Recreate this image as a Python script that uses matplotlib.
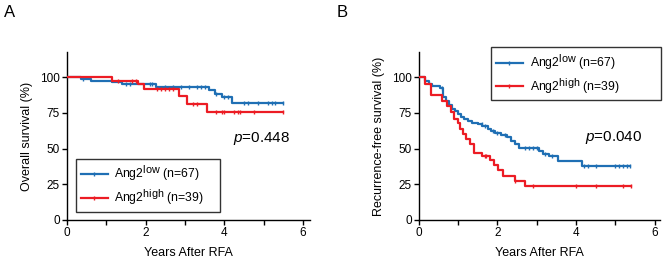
import numpy as np
import matplotlib
matplotlib.use("Agg")
import matplotlib.pyplot as plt
import matplotlib._mathtext as mt
from matplotlib.lines import Line2D

plt.rcParams['font.family'] = ['Liberation Sans', 'DejaVu Sans']
plt.rcParams['mathtext.fontset'] = 'custom'
plt.rcParams['mathtext.rm'] = 'Liberation Sans'
plt.rcParams['mathtext.it'] = 'Liberation Sans:italic'
# superscripts in the legend are nearly full size
mt.SHRINK_FACTOR = 0.88

#-------------------------------------------------------------
# data (step points + censor times)
#-------------------------------------------------------------
# panel A : overall survival
a_low_t = [0, 0.35, 0.6, 1.15, 1.4, 2.25, 3.6, 3.75, 3.95, 4.2, 5.5]
a_low_s = [100, 98.5, 97, 96.3, 95.2, 93, 91, 88, 86, 82, 82]
a_low_cens = [0.4, 1.5, 1.6, 2.1, 2.15, 2.5, 2.7, 2.9, 3.1, 3.3, 3.4, 3.5,
              3.8, 4.0, 4.1, 4.5, 4.6, 4.85, 5.1, 5.2, 5.3, 5.5]
a_high_t = [0, 1.15, 1.8, 1.95, 2.85, 3.05, 3.55, 5.5]
a_high_s = [100, 97.4, 95, 91.5, 87, 81.5, 75.5, 75.5]
a_high_cens = [1.3, 1.65, 1.75, 2.3, 2.4, 2.5, 2.6, 2.7, 3.2, 3.3, 3.8, 3.95,
               4.0, 4.25, 4.35, 4.4, 4.75, 5.5]

# panel B : recurrence-free survival
b_low_t = [0, 0.15, 0.25, 0.35, 0.55, 0.62, 0.7, 0.78, 0.85, 0.92, 1.0, 1.08,
           1.15, 1.25, 1.35, 1.5, 1.62, 1.75, 1.85, 1.95, 2.1, 2.25, 2.35,
           2.45, 2.55, 3.05, 3.15, 3.3, 3.55, 4.15, 5.38]
b_low_s = [100, 97, 95.5, 94, 92.5, 86, 83, 80.5, 78, 76, 74, 72, 70.5, 69,
           68, 67, 65.5, 64, 62.5, 61, 59.5, 58, 55.5, 53.5, 50.5, 48.5, 46.5,
           44.5, 41.5, 38, 38]
b_low_cens = [0.58, 1.6, 1.68, 1.9, 2.0, 2.2, 2.7, 2.8, 2.9, 3.0, 3.2, 3.4,
              4.2, 4.3, 4.5, 5.0, 5.1, 5.2, 5.3, 5.38]
b_high_t = [0, 0.15, 0.3, 0.6, 0.72, 0.82, 0.9, 1.0, 1.05, 1.12, 1.2, 1.3,
            1.4, 1.6, 1.82, 1.92, 2.02, 2.15, 2.45, 2.7, 5.4]
b_high_s = [100, 95, 87.5, 83.5, 79.5, 75.5, 71, 68, 64, 60, 56.5, 53, 47, 45,
            42, 38.5, 35, 31, 27.5, 24, 24]
b_high_cens = [1.68, 1.72, 2.45, 2.9, 4.0, 4.5, 5.2, 5.4]

blue = "#1f6fb4"
red = "#ec1c24"

def surv_at(t, s, x):
    idx = np.searchsorted(t, x, side="right") - 1
    return np.array(s)[idx]

def km(ax, t, s, cens, color):
    ax.step(t, s, where="post", color=color, lw=1.6, zorder=3)
    ax.plot(cens, surv_at(t, s, cens), ls="none", marker="|",
            color=color, ms=3, mew=1.0, zorder=3)

def style(ax, xmax):
    ax.set_xlim(0, xmax)
    ax.set_ylim(0, 117.5)
    ax.set_xticks([0, 2, 4, 6])
    ax.set_xticks([1, 3, 5], minor=True)
    ax.set_yticks([0, 25, 50, 75, 100])
    for sp in ["top", "right"]:
        ax.spines[sp].set_visible(False)
    for sp in ["left", "bottom"]:
        ax.spines[sp].set_linewidth(1.0)
    ax.tick_params(which="both", direction="out", length=3.5, width=1.0,
                   labelsize=8.5, pad=1.5)
    ax.set_xlabel("Years After RFA", fontsize=9, labelpad=6)

def legend(ax, **kw):
    h = [Line2D([], [], color=blue, lw=1.6, marker="|", ms=3, mew=1.0),
         Line2D([], [], color=red, lw=1.6, marker="|", ms=3, mew=1.0)]
    lab = [r"Ang2$^{\mathrm{low}}$ (n=67)", r"Ang2$^{\mathrm{high}}$ (n=39)"]
    lg = ax.legend(h, lab, fontsize=8.8, frameon=True, fancybox=False,
                   edgecolor="black", borderaxespad=0, handlelength=2.2,
                   handletextpad=0.55, borderpad=0.4, labelspacing=0.3,
                   mode="expand", **kw)
    lg.get_frame().set_linewidth(1.0)

fig = plt.figure(figsize=(6.66, 2.64), dpi=100)
axA = fig.add_axes([0.1006, 0.1667, 0.365, 0.636])
axB = fig.add_axes([0.6287, 0.1667, 0.362, 0.636])

km(axA, a_low_t, a_low_s, a_low_cens, blue)
km(axA, a_high_t, a_high_s, a_high_cens, red)
style(axA, 6.18)
axA.set_ylabel("Overall survival (%)", fontsize=9, labelpad=5)
axA.text(4.96, 57, r"$\mathit{p}$=0.448", fontsize=11, ha="center", va="center")
legend(axA, loc="lower left", bbox_to_anchor=(0.037, 0.048, 0.593, 0.3))

km(axB, b_low_t, b_low_s, b_low_cens, blue)
km(axB, b_high_t, b_high_s, b_high_cens, red)
style(axB, 6.13)
axB.set_ylabel("Recurrence-free survival (%)", fontsize=9, labelpad=5)
axB.text(4.96, 58, r"$\mathit{p}$=0.040", fontsize=11, ha="center", va="center")
legend(axB, loc="upper left", bbox_to_anchor=(0.30, 0.6, 0.705, 0.43))

fig.text(0.006, 0.953, "A", fontsize=12, va="center")
fig.text(0.505, 0.953, "B", fontsize=12, va="center")

fig.savefig("out.png", dpi=100)
